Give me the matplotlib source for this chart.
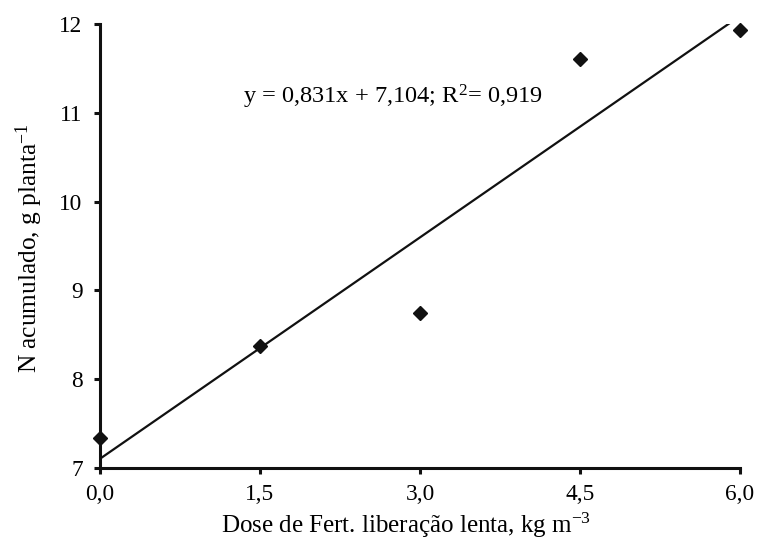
import matplotlib
matplotlib.use("Agg")
import matplotlib.pyplot as plt
import numpy as np

plt.rcParams['font.family'] = ['Liberation Serif', 'DejaVu Serif']
plt.rcParams['mathtext.fontset'] = 'custom'
plt.rcParams['mathtext.rm'] = 'Liberation Serif'
plt.rcParams['mathtext.it'] = 'Liberation Serif:italic'
plt.rcParams['mathtext.default'] = 'regular'

dose = [0.0, 1.5, 3.0, 4.5, 6.0]
n_acum = [7.34, 8.37, 8.75, 11.61, 11.93]
slope = 0.831
intercept = 7.104
xtick_labels = ["0,0", "1,5", "3,0", "4,5", "6,0"]
yticks = [7, 8, 9, 10, 11, 12]

fig = plt.figure(figsize=(7.59, 5.42), dpi=100)
ax = fig.add_axes([100/759, 1-468/542, 640/759, 444/542])

xl = np.array([0.0, 6.0])
ax.plot(xl, slope*xl + intercept, color='#111111', lw=1.6, zorder=2)
ax.plot(dose, n_acum, linestyle='none', marker='D', ms=6.8, color='#111111', zorder=3, clip_on=False)

ax.set_xlim(0, 6)
ax.set_ylim(7, 12)
ax.set_xticks(dose)
ax.set_xticklabels(xtick_labels)
ax.set_yticks(yticks)
for s in ['top', 'right']:
    ax.spines[s].set_visible(False)
for s in ['left', 'bottom']:
    ax.spines[s].set_linewidth(2.2)
    ax.spines[s].set_color('#111111')
ax.tick_params(axis='both', direction='out', length=4.5, width=2.2, color='#111111',
               labelsize=16.8)
ax.tick_params(axis='x', pad=7)
ax.tick_params(axis='y', pad=8)

fig.text(406/759, 1-533/542, 'Dose de Fert. liberação lenta, kg m$^{-3}$', fontsize=18.0,
         ha='center', va='baseline')
fig.text(29/759, 1-248/542, 'N acumulado, g planta$^{-1}$', fontsize=18.3,
         ha='center', va='center', rotation=90)

ax.text(1.34, 11.18, 'y = 0,831x + 7,104; R$^{2}$= 0,919', fontsize=17.6, ha='left', va='center')

fig.savefig('out.png', dpi=100)
